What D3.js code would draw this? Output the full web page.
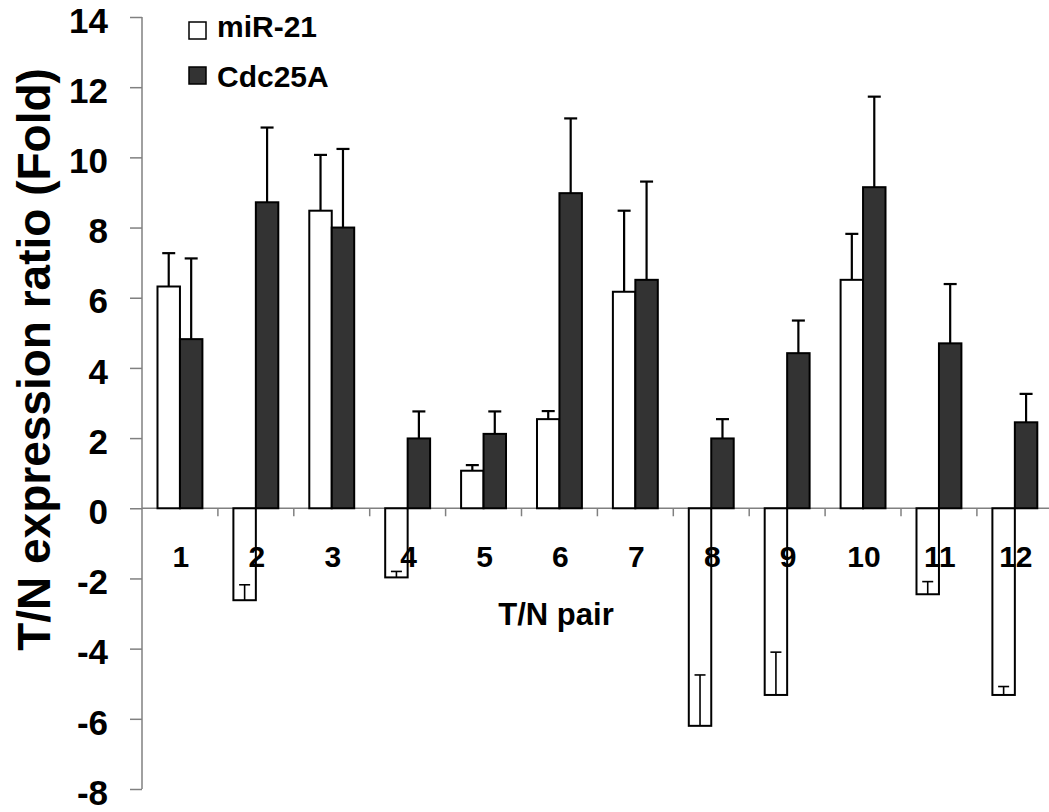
<!DOCTYPE html>
<html>
<head>
<meta charset="utf-8">
<script src="https://cdn.jsdelivr.net/npm/d3@7"></script>
<style>
  html, body { margin: 0; padding: 0; background: #fff; }
  svg { display: block; }
  text { font-family: "Liberation Sans", Arial, Helvetica, sans-serif; font-weight: bold; fill: #000; }
</style>
</head>
<body>
<svg id="chart" width="1049" height="812"></svg>
<script>
const categories = ["1","2","3","4","5","6","7","8","9","10","11","12"];
const seriesNames = ["miR-21", "Cdc25A"];
const mir21 = [6.32, -2.62, 8.48, -1.97, 1.07, 2.54, 6.17, -6.20, -5.32, 6.51, -2.45, -5.32];
const mir21Err = [0.95, 0.44, 1.59, 0.17, 0.16, 0.23, 2.31, 1.45, 1.22, 1.31, 0.36, 0.24];
const cdc25a = [4.82, 8.72, 8.00, 1.99, 2.12, 8.98, 6.51, 1.99, 4.42, 9.15, 4.70, 2.45];
const cdc25aErr = [2.30, 2.13, 2.24, 0.77, 0.64, 2.13, 2.80, 0.55, 0.93, 2.58, 1.69, 0.81];
const yTicks = [-8, -6, -4, -2, 0, 2, 4, 6, 8, 10, 12, 14];
const yTickLabels = ["-8", "-6", "-4", "-2", "0", "2", "4", "6", "8", "10", "12", "14"];
const yTitle = "T/N expression ratio (Fold)";
const xTitle = "T/N pair";

const svg = d3.select("#chart");
const axisColor = "#808080";

const x = d3.scaleBand().domain(categories).range([142, 1052.8]).paddingInner(0).paddingOuter(0);
const xs = d3.scaleBand().domain(seriesNames).range([0, x.bandwidth()]).paddingInner(0).paddingOuter(0.69);
const y = d3.scaleLinear().domain([-8, 14]).range([789, 17]);

// Y axis
const yAxis = svg.append("g").attr("transform", "translate(142,0)")
  .call(d3.axisLeft(y).tickValues(yTicks).tickSize(12).tickPadding(22)
    .tickFormat((d, i) => yTickLabels[i]));
yAxis.select(".domain").attr("stroke", axisColor).attr("stroke-width", 1.5).attr("d", `M0,${y(14)}V${y(-8)}`);
yAxis.selectAll(".tick line").attr("stroke", axisColor).attr("stroke-width", 1.5);
yAxis.selectAll(".tick text").attr("font-size", 35).attr("font-weight", "bold")
  .attr("font-family", '"Liberation Sans", Arial, sans-serif').attr("fill", "#000").attr("y", 4);

// Zero line (x axis)
const x0 = y(0);
svg.append("line").attr("x1", 142).attr("x2", 1052.8).attr("y1", x0).attr("y2", x0)
  .attr("stroke", axisColor).attr("stroke-width", 1.5);
const boundaries = categories.slice(1).map(c => x(c));
svg.selectAll(".xtick").data(boundaries).enter().append("line")
  .attr("x1", d => d).attr("x2", d => d).attr("y1", x0).attr("y2", x0 + 8)
  .attr("stroke", axisColor).attr("stroke-width", 1.5);

// Bars
const data = categories.map((c, i) => ({ c, vals: [
  { s: seriesNames[0], v: mir21[i], e: mir21Err[i] },
  { s: seriesNames[1], v: cdc25a[i], e: cdc25aErr[i] }
]}));
const fills = { "miR-21": "#ffffff", "Cdc25A": "#333333" };

const groups = svg.selectAll(".grp").data(data).enter().append("g")
  .attr("transform", d => `translate(${x(d.c)},0)`);
groups.selectAll("rect").data(d => d.vals).enter().append("rect")
  .attr("x", d => xs(d.s)).attr("width", xs.bandwidth())
  .attr("y", d => Math.min(y(0), y(d.v))).attr("height", d => Math.abs(y(d.v) - y(0)))
  .attr("fill", d => fills[d.s]).attr("stroke", "#000").attr("stroke-width", 2);

// Error bars (plus direction)
const eb = groups.selectAll(".eb").data(d => d.vals).enter().append("g");
eb.append("line")
  .attr("x1", d => xs(d.s) + xs.bandwidth() / 2).attr("x2", d => xs(d.s) + xs.bandwidth() / 2)
  .attr("y1", d => y(d.v)).attr("y2", d => y(d.v + d.e))
  .attr("stroke", "#000").attr("stroke-width", d => d.v < 0 ? 1.6 : 2.2);
eb.append("line")
  .attr("x1", d => xs(d.s) + xs.bandwidth() / 2 - (d.v < 0 ? 5.5 : 6.5))
  .attr("x2", d => xs(d.s) + xs.bandwidth() / 2 + (d.v < 0 ? 5.5 : 6.5))
  .attr("y1", d => y(d.v + d.e)).attr("y2", d => y(d.v + d.e))
  .attr("stroke", "#000").attr("stroke-width", d => d.v < 0 ? 1.6 : 2.2);

// Category labels
svg.selectAll(".clab").data(categories).enter().append("text")
  .attr("x", d => x(d) + x.bandwidth() / 2 + 1).attr("y", 567)
  .attr("text-anchor", "middle").attr("font-size", 30).text(d => d);

// X title
svg.append("text").attr("x", 556).attr("y", 625).attr("text-anchor", "middle")
  .attr("font-size", 31).text(xTitle);

// Y title
svg.append("text").attr("transform", `translate(50,${(72 + 647) / 2}) rotate(-90)`)
  .attr("text-anchor", "middle").attr("font-size", 46).text(yTitle);

// Legend
const legend = svg.append("g");
seriesNames.forEach((s, i) => {
  legend.append("rect").attr("x", 189).attr("y", 22 + i * 45).attr("width", 17).attr("height", 17)
    .attr("fill", fills[s]).attr("stroke", "#000").attr("stroke-width", 1.5);
  legend.append("text").attr("x", 217).attr("y", 37 + i * 50).attr("font-size", 30).text(s);
});
</script>
</body>
</html>
